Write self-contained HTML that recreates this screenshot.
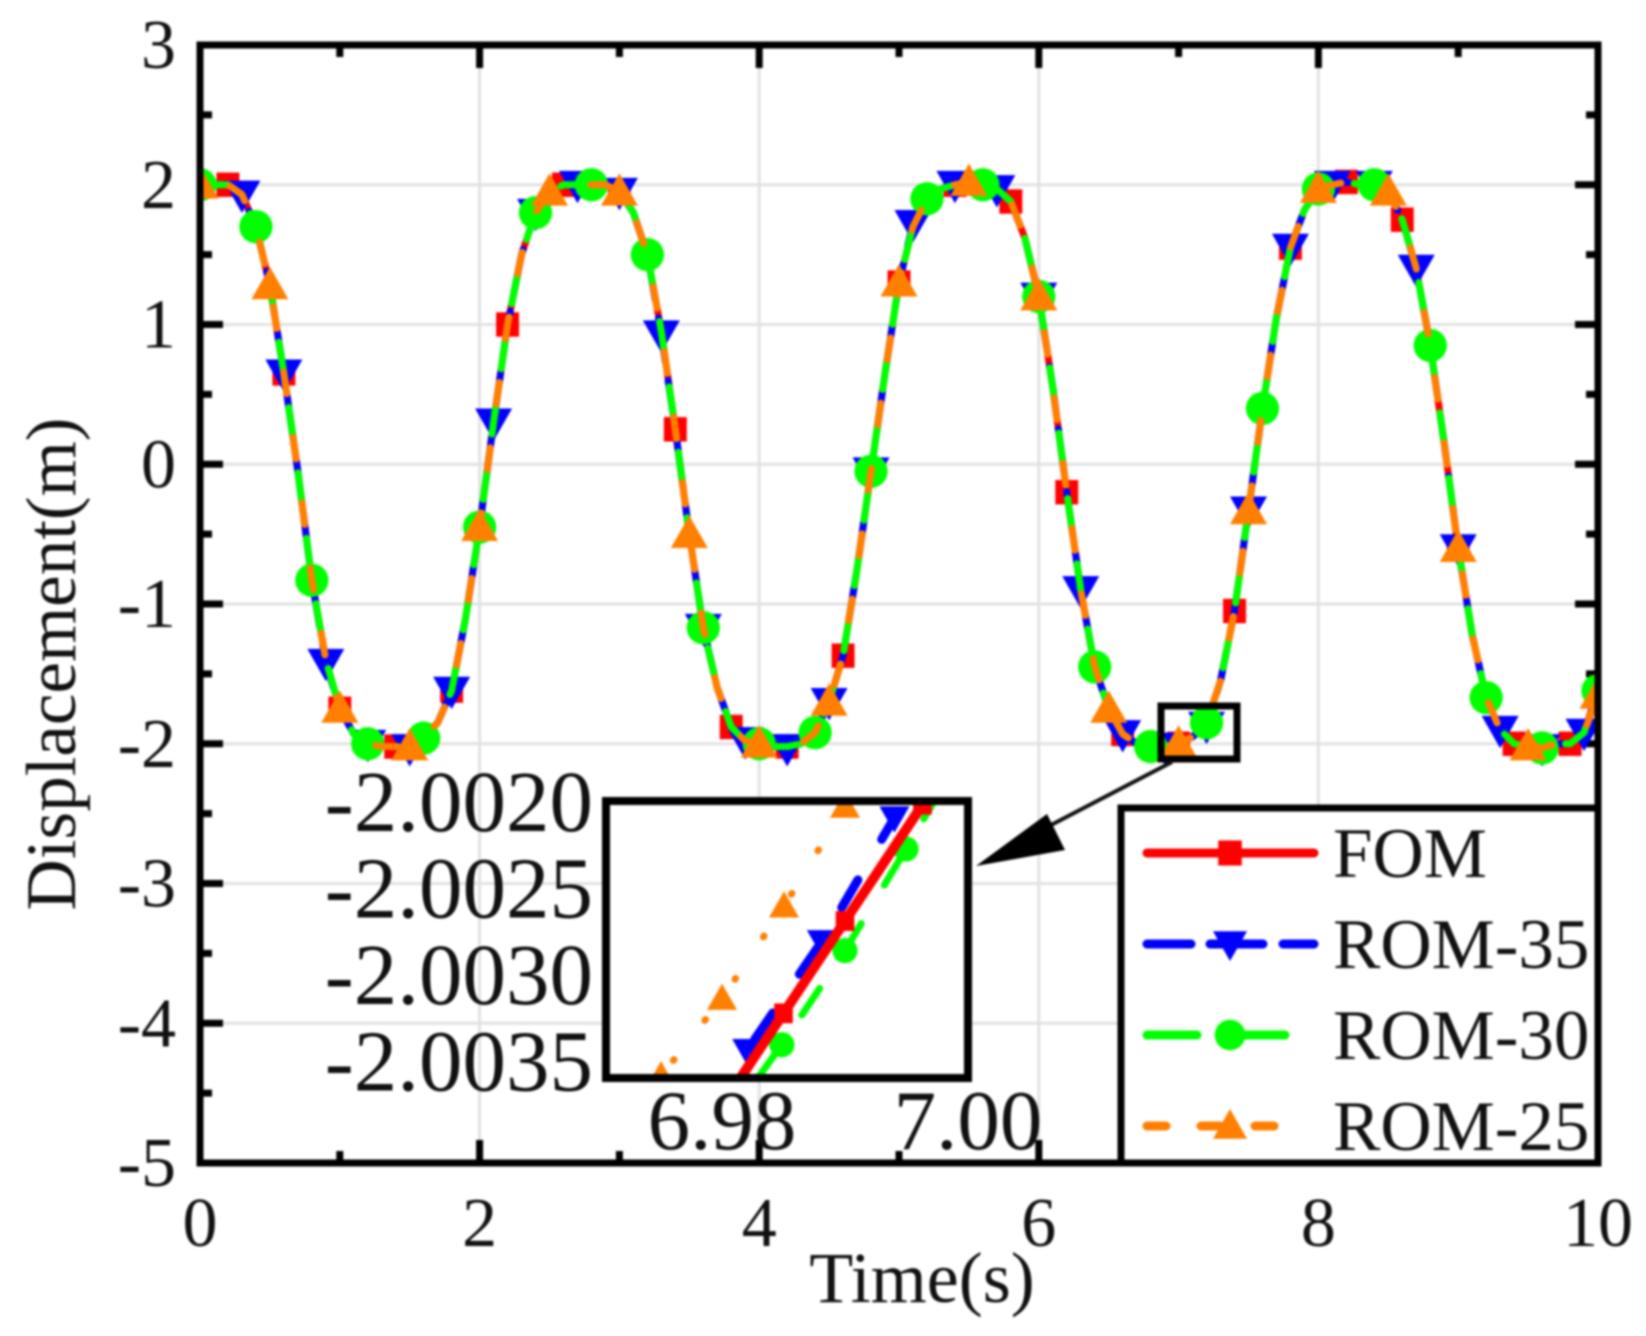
<!DOCTYPE html>
<html>
<head>
<meta charset="utf-8">
<style>
html,body{margin:0;padding:0;background:#fff;}
#chart{display:block;width:1646px;height:1336px;filter:blur(1px);}
text{font-family:"Liberation Serif",serif;fill:#111;}
</style>
</head>
<body>
<svg id="chart" xmlns="http://www.w3.org/2000/svg" width="1646" height="1336" viewBox="0 0 1646 1336">
<defs>
<clipPath id="plot-clip"><rect x="200" y="45" width="1398" height="1118"/></clipPath>
<clipPath id="inset-clip"><rect x="606" y="801" width="362" height="277"/></clipPath>
</defs>
<rect width="1646" height="1336" fill="#fff"/>
<g id="grid"></g>
<g id="ticks"></g>
<g id="series" clip-path="url(#plot-clip)"></g>
<rect x="200" y="45" width="1398" height="1118" fill="none" stroke="#000" stroke-width="7"/>
<g id="tick-labels"></g>
<text x="922" y="1302" font-size="72" text-anchor="middle">Time(s)</text>
<text transform="translate(75 664) rotate(-90)" font-size="71" text-anchor="middle">Displacement(m)</text>
<rect x="1161" y="706" width="76" height="53" fill="none" stroke="#000" stroke-width="7"/>
<line x1="1172" y1="762" x2="1030" y2="836" stroke="#111" stroke-width="4"/>
<polygon points="976,866 1047,814 1065,850" fill="#000"/>
<rect x="606" y="801" width="362" height="277" fill="#fff"/>
<g id="inset-series" clip-path="url(#inset-clip)"></g>
<rect x="606" y="801" width="362" height="277" fill="none" stroke="#000" stroke-width="8"/>
<g id="inset-labels"></g>
<g id="legend">
<rect x="1121" y="808" width="477" height="355" fill="#fff" stroke="#000" stroke-width="7"/>
</g>
</svg>
<script>
const times = [0,0.1,0.2,0.3,0.4,0.5,0.6,0.7,0.8,0.9,1,1.1,1.2,1.3,1.4,1.5,1.6,1.7,1.8,1.9,2,2.1,2.2,2.3,2.4,2.5,2.6,2.7,2.8,2.9,3,3.1,3.2,3.3,3.4,3.5,3.6,3.7,3.8,3.9,4,4.1,4.2,4.3,4.4,4.5,4.6,4.7,4.8,4.9,5,5.1,5.2,5.3,5.4,5.5,5.6,5.7,5.8,5.9,6,6.1,6.2,6.3,6.4,6.5,6.6,6.7,6.8,6.9,7,7.1,7.2,7.3,7.4,7.5,7.6,7.7,7.8,7.9,8,8.1,8.2,8.3,8.4,8.5,8.6,8.7,8.8,8.9,9,9.1,9.2,9.3,9.4,9.5,9.6,9.7,9.8,9.9,10];
const fomValues = [2,2,2,1.93,1.7,1.28,0.65,-0.05,-0.83,-1.4,-1.75,-1.93,-2,-2.02,-2.02,-2.02,-1.95,-1.85,-1.62,-1.1,-0.45,0.3,1,1.5,1.8,1.95,2,2,2,2,1.95,1.8,1.5,0.95,0.25,-0.5,-1.17,-1.6,-1.88,-1.98,-2,-2.02,-2.02,-2,-1.92,-1.7,-1.37,-0.75,-0.05,0.65,1.3,1.7,1.9,1.97,2,2.02,2,1.97,1.88,1.62,1.2,0.55,-0.2,-0.9,-1.45,-1.75,-1.93,-2,-2.02,-2.02,-2,-1.95,-1.85,-1.55,-1.05,-0.33,0.4,1.05,1.55,1.82,1.97,2,2.02,2,2,1.95,1.75,1.4,0.85,0.15,-0.6,-1.22,-1.67,-1.9,-2,-2.02,-2.03,-2,-2,-1.92,-1.62];
const rom35Values = [2,2,2,1.93,1.7,1.28,0.65,-0.05,-0.83,-1.42,-1.75,-1.93,-2,-2.02,-2.02,-2.03,-1.95,-1.85,-1.62,-1.1,-0.45,0.3,1,1.5,1.8,1.95,2,2,2,2,1.95,1.8,1.5,0.93,0.25,-0.5,-1.17,-1.6,-1.88,-1.98,-2,-2.02,-2.03,-2,-1.92,-1.7,-1.37,-0.75,-0.05,0.65,1.3,1.72,1.9,1.97,2,2.02,2,1.97,1.88,1.62,1.2,0.55,-0.2,-0.9,-1.45,-1.75,-1.93,-2,-2.02,-2.02,-2,-1.95,-1.87,-1.55,-1.05,-0.33,0.4,1.05,1.55,1.82,1.97,2,2.02,2,2,1.95,1.75,1.4,0.85,0.15,-0.6,-1.22,-1.67,-1.9,-2,-2.02,-2.03,-2,-2,-1.92,-1.62];
const rom30Values = [2,2,2,1.93,1.7,1.28,0.65,-0.05,-0.83,-1.4,-1.75,-1.93,-2,-2.02,-2.02,-2.02,-1.96,-1.85,-1.62,-1.1,-0.45,0.3,1,1.5,1.8,1.95,2,2,2,2,1.95,1.8,1.5,0.95,0.25,-0.5,-1.17,-1.6,-1.88,-1.98,-2,-2.02,-2.02,-2,-1.92,-1.7,-1.37,-0.75,-0.05,0.65,1.3,1.7,1.9,1.97,2,2.02,2,1.97,1.88,1.62,1.2,0.55,-0.2,-0.9,-1.45,-1.75,-1.93,-2,-2.02,-2.02,-2,-1.95,-1.85,-1.55,-1.05,-0.33,0.4,1.05,1.55,1.82,1.97,2,2.02,2,2,1.95,1.75,1.4,0.85,0.15,-0.6,-1.22,-1.67,-1.9,-2,-2.02,-2.03,-2,-2,-1.92,-1.62];
const rom25Values = [2,2,2,1.93,1.7,1.28,0.65,-0.05,-0.83,-1.4,-1.75,-1.93,-2,-2.02,-2.02,-2.02,-1.95,-1.85,-1.62,-1.1,-0.45,0.3,1,1.5,1.8,1.95,2,2,2,2,1.95,1.8,1.5,0.95,0.25,-0.5,-1.17,-1.6,-1.88,-1.98,-2,-2.02,-2.02,-2,-1.92,-1.7,-1.37,-0.75,-0.05,0.65,1.3,1.7,1.9,1.97,2,2.02,2,1.97,1.88,1.62,1.2,0.55,-0.2,-0.9,-1.45,-1.75,-1.93,-2,-2.02,-2.02,-2,-1.95,-1.85,-1.55,-1.05,-0.33,0.4,1.05,1.55,1.82,1.97,2,2.02,2,2,1.95,1.75,1.4,0.85,0.15,-0.6,-1.22,-1.67,-1.9,-2,-2.02,-2.03,-2,-2,-1.92,-1.65];
const xTickLabels = [0,2,4,6,8,10];
const yTickLabels = [3,2,1,0,-1,-2,-3,-4,-5];
const insetFomTimes = [6.98,6.985,6.99,6.9963,7];
const insetFomValues = [-2.00365,-2.00315,-2.00265,-2.00202,-2.00165];
const insetRom35Times = [6.9805,6.98205,6.98812,6.99402,6.9965];
const insetRom35Values = [-2.00352,-2.00335,-2.00276,-2.00209,-2.00185];
const insetRom30Times = [6.9829,6.98487,6.99,6.99496,6.99726];
const insetRom30Values = [-2.0035,-2.00332,-2.00281,-2.00226,-2.002];
const insetRom25Times = [6.97504,6.98,6.98504,6.99];
const insetRom25Values = [-2.00349,-2.00307,-2.00257,-2.00203];
const insetYTickLabels = ['-2.0020','-2.0025','-2.0030','-2.0035'];
const insetXTickLabels = ['6.98','7.00'];
const legendLabels = ['FOM','ROM-35','ROM-30','ROM-25'];

const NS = 'http://www.w3.org/2000/svg';
const xAxis = t => 200 + t * 139.8;
const yAxis = v => 45 + (3 - v) * 139.75;
const insetX = t => 722 + (t - 6.98) * 12300;
const insetY = v => 801 + (-2.002 - v) * 184667;
function make(parent, tag, attrs, text) {
  const el = document.createElementNS(NS, tag);
  for (const k in attrs) el.setAttribute(k, attrs[k]);
  if (text !== undefined) el.textContent = text;
  parent.appendChild(el);
  return el;
}
function drawMarker(parent, kind, cx, cy, color, s) {
  let el;
  if (kind === 'square') {
    el = make(parent, 'rect', {x: cx - s * 0.62, y: cy - s * 0.66, width: s * 1.24, height: s * 1.32, fill: color});
  } else if (kind === 'down') {
    el = make(parent, 'polygon', {points: (cx - s) + ',' + (cy - s * 0.75) + ' ' + (cx + s) + ',' + (cy - s * 0.75) + ' ' + cx + ',' + (cy + s), fill: color});
  } else if (kind === 'circle') {
    el = make(parent, 'circle', {cx: cx, cy: cy, r: s * 0.9, fill: color});
  } else {
    el = make(parent, 'polygon', {points: (cx - s) + ',' + (cy + s * 0.75) + ' ' + (cx + s) + ',' + (cy + s * 0.75) + ' ' + cx + ',' + (cy - s), fill: color});
  }
  return el;
}
const gridG = document.getElementById('grid');
const ticksG = document.getElementById('ticks');
const labelsG = document.getElementById('tick-labels');

xTickLabels.forEach(v => {
  const px = xAxis(v);
  if (v > 0 && v < 10) {
    const g = make(gridG, 'line', {x1: px, x2: px, y1: 45, y2: 1163, stroke: '#e2e2e2', 'stroke-width': 3});
    
    
    [[45, 68], [1163, 1140]].forEach(p => {
      const t = make(ticksG, 'line', {x1: px, x2: px, y1: p[0], y2: p[1], stroke: '#000', 'stroke-width': 7});
      
      
    });
  }
  if (v < 10) {
    const mx = xAxis(v + 1);
    [[45, 57], [1163, 1151]].forEach(p => {
      const t = make(ticksG, 'line', {x1: mx, x2: mx, y1: p[0], y2: p[1], stroke: '#000', 'stroke-width': 7});
      
      
    });
  }
  const l = make(labelsG, 'text', {x: px, y: 1246, 'font-size': 70, 'text-anchor': 'middle'}, String(v));
  
  
});
yTickLabels.forEach(v => {
  const py = yAxis(v);
  if (v < 3 && v > -5) {
    const g = make(gridG, 'line', {x1: 200, x2: 1598, y1: py, y2: py, stroke: '#e2e2e2', 'stroke-width': 3});
    
    
    [[200, 223], [1598, 1575]].forEach(p => {
      const t = make(ticksG, 'line', {x1: p[0], x2: p[1], y1: py, y2: py, stroke: '#000', 'stroke-width': 7});
      
      
    });
  }
  if (v > -5) {
    const my = yAxis(v - 0.5);
    [[200, 212], [1598, 1586]].forEach(p => {
      const t = make(ticksG, 'line', {x1: p[0], x2: p[1], y1: my, y2: my, stroke: '#000', 'stroke-width': 7});
      
      
    });
  }
  const l = make(labelsG, 'text', {x: 176, y: py + 23, 'font-size': 70, 'text-anchor': 'end'}, String(v));
  
  
});

const seriesDefs = [
  {name: 'fom', values: fomValues, color: '#ff0000', dash: '', off: 0, marker: 'square', offset: 2, step: 4},
  {name: 'rom-35', values: rom35Values, color: '#0000ff', dash: '44 19', off: 0, marker: 'down', offset: 3, step: 3},
  {name: 'rom-30', values: rom30Values, color: '#00ff00', dash: '28 38', off: 0, marker: 'circle', offset: 0, step: 4},
  {name: 'rom-25', values: rom25Values, color: '#ff8000', dash: '22 44', off: -30, marker: 'up', offset: 0, step: 5}
];
const seriesG = document.getElementById('series');
seriesDefs.forEach(s => {
  const pts = times.map((t, i) => xAxis(t) + ',' + yAxis(s.values[i])).join(' ');
  const line = make(seriesG, 'polyline', {points: pts, fill: 'none', stroke: s.color, 'stroke-width': 7, 'stroke-linejoin': 'round', 'stroke-linecap': 'round', 'stroke-dasharray': s.dash, 'stroke-dashoffset': s.off});
  
  
  for (let i = s.offset; i < times.length; i += s.step) {
    const m = drawMarker(seriesG, s.marker, xAxis(times[i]), yAxis(s.values[i]), s.color, 18.5);
    
    
  }
});

const insetDefs = [
  {name: 'inset-rom-35', t: insetRom35Times, v: insetRom35Values, color: '#0000ff', dash: '32 47', off: -50, w: 9, marker: 'down', s: 15},
  {name: 'inset-rom-30', t: insetRom30Times, v: insetRom30Values, color: '#00ff00', dash: '32 45', off: 0, w: 7, marker: 'circle', s: 14},
  {name: 'inset-rom-25', t: insetRom25Times, v: insetRom25Values, color: '#ff8000', dash: '1 50', off: -20, w: 7, marker: 'up', s: 15},
  {name: 'inset-fom', t: insetFomTimes, v: insetFomValues, color: '#ff0000', dash: '', off: 0, w: 10, marker: 'square', s: 15}
];
const insetG = document.getElementById('inset-series');
insetDefs.forEach(s => {
  const pts = s.t.map((t, i) => insetX(t) + ',' + insetY(s.v[i])).join(' ');
  const line = make(insetG, 'polyline', {points: pts, fill: 'none', stroke: s.color, 'stroke-width': s.w, 'stroke-linecap': 'round', 'stroke-dasharray': s.dash, 'stroke-dashoffset': s.off});
  
  
  s.t.forEach((t, i) => {
    if (s.name === 'inset-rom-25' || (i > 0 && i < s.t.length - 1)) {
      const m = drawMarker(insetG, s.marker, insetX(t), insetY(s.v[i]), s.color, s.s);
      
      
    }
  });
});
const insetLabelsG = document.getElementById('inset-labels');
insetYTickLabels.forEach((txt, i) => {
  const l = make(insetLabelsG, 'text', {x: 593, y: 831 + i * 86.5, 'font-size': 87, 'text-anchor': 'end'}, txt);
  
  
});
insetXTickLabels.forEach((txt, i) => {
  const l = make(insetLabelsG, 'text', {x: 722 + i * 246, y: 1149, 'font-size': 85, 'text-anchor': 'middle'}, txt);
  
  
});

const legendDashes = ['', '44 19 53 20 31', '50 46 42 200', '19 35 19 35 19 200'];
const legendG = document.getElementById('legend');
legendLabels.forEach((txt, i) => {
  const s = seriesDefs[i];
  const ly = 853 + i * 91;
  const line = make(legendG, 'line', {x1: 1147, x2: 1314, y1: ly, y2: ly, stroke: s.color, 'stroke-width': 9, 'stroke-linecap': 'round', 'stroke-dasharray': legendDashes[i]});
  
  
  const m = drawMarker(legendG, s.marker, 1230, ly, s.color, i === 0 ? 19 : 17);
  
  
  const l = make(legendG, 'text', {x: 1333, y: ly + 24, 'font-size': 71}, txt);
  
  
});
</script>
</body>
</html>
